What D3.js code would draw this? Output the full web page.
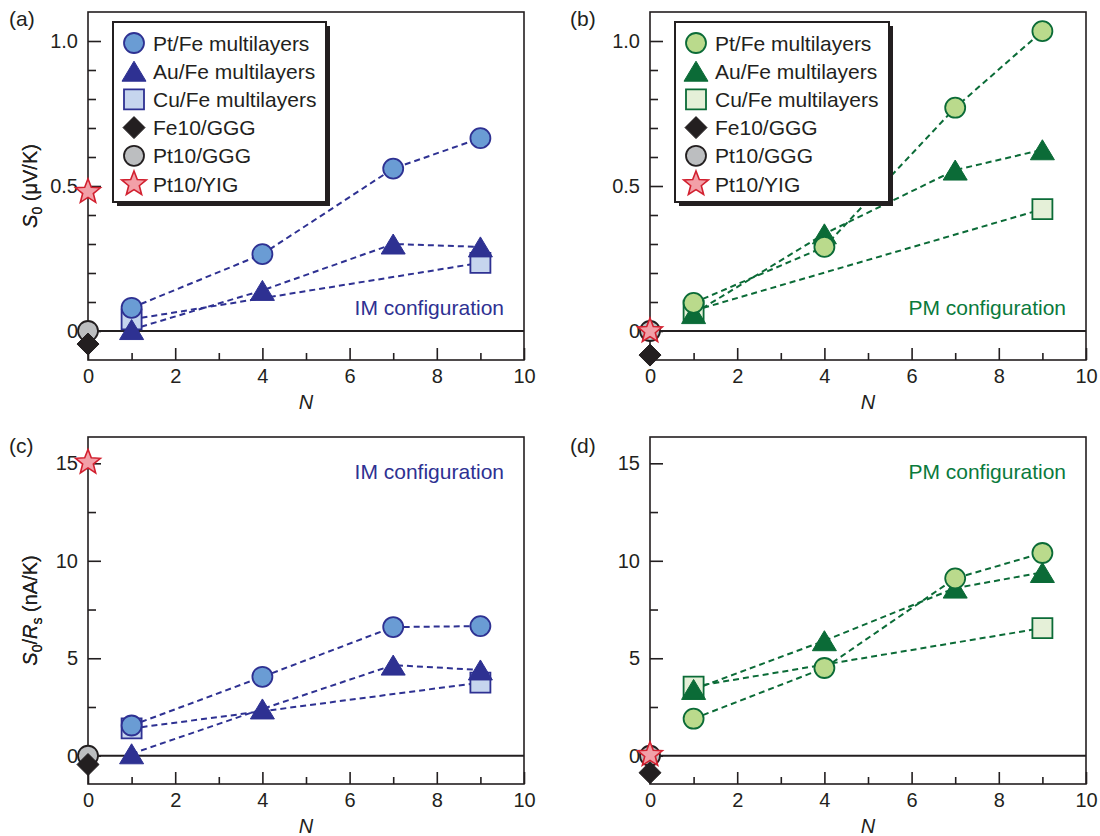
<!DOCTYPE html>
<html>
<head>
<meta charset="utf-8">
<script src="https://cdn.jsdelivr.net/npm/d3@7"></script>
<style>
  body { margin: 0; background: #fff; }
  svg text { font-family: "Liberation Sans", Arial, Helvetica, sans-serif; fill: #231f20; }
</style>
</head>
<body>
<svg id="fig" width="1100" height="836"></svg>
<script>
// ---- data ----
const nMulti = [1, 4, 7, 9];   // Pt/Fe and Au/Fe multilayers
const nCu = [1, 9];            // Cu/Fe multilayers
const nRef = 0;                // single-layer references

const xMajor = [0, 2, 4, 6, 8, 10];
const xMinor = [1, 3, 5, 7, 9];

const s0Major = [0, 0.5, 1.0];
const s0Minor = [0.1, 0.2, 0.3, 0.4, 0.6, 0.7, 0.8, 0.9];
const srMajor = [0, 5, 10, 15];
const srMinor = [2.5, 7.5, 12.5];

const legendNames = ['Pt/Fe multilayers', 'Au/Fe multilayers', 'Cu/Fe multilayers',
                     'Fe10/GGG', 'Pt10/GGG', 'Pt10/YIG'];

// (a) S0, IM configuration (μV/K)
const ptFeS0IM = [0.08, 0.265, 0.56, 0.665];
const auFeS0IM = [0.005, 0.14, 0.30, 0.29];
const cuFeS0IM = [0.04, 0.235];
const refS0IM  = [-0.045, 0, 0.48];   // Fe10/GGG, Pt10/GGG, Pt10/YIG

// (b) S0, PM configuration (μV/K)
const ptFeS0PM = [0.097, 0.29, 0.77, 1.034];
const auFeS0PM = [0.06, 0.335, 0.555, 0.625];
const cuFeS0PM = [0.07, 0.42];
const refS0PM  = [-0.083, 0, 0];

// (c) S0/Rs, IM configuration (nA/K)
const ptFeSrIM = [1.55, 4.05, 6.6, 6.65];
const auFeSrIM = [0.1, 2.4, 4.65, 4.4];
const cuFeSrIM = [1.4, 3.75];
const refSrIM  = [-0.45, 0, 15.05];

// (d) S0/Rs, PM configuration (nA/K)
const ptFeSrPM = [1.9, 4.5, 9.1, 10.4];
const auFeSrPM = [3.4, 5.9, 8.6, 9.4];
const cuFeSrPM = [3.55, 6.55];
const refSrPM  = [-0.87, 0, 0.05];

const imTheme = {dark: '#2e3192', ptFill: '#6a9cd4', cuFill: '#c6d5ee', note: '#2e3192'};
const pmTheme = {dark: '#0b6b37', ptFill: '#bada8c', cuFill: '#e5f0d8', note: '#0a7a3c'};

function shapePath(type) {
  if (type === 'circle') return 'M10,0A10,10 0 1,1 -10,0A10,10 0 1,1 10,0Z';
  if (type === 'triangle') return 'M0,-10L12,10L-12,10Z';
  if (type === 'square') return 'M-10,-10H10V10H-10Z';
  if (type === 'diamond') return 'M0,-11L11,0L0,11L-11,0Z';
  // star
  const pts = d3.range(10).map(i => {
    const r = i % 2 === 0 ? 13 : 5.6;
    const a = -Math.PI / 2 + i * Math.PI / 5;
    return [r * Math.cos(a), r * Math.sin(a)];
  });
  return 'M' + pts.map(p => p.join(',')).join('L') + 'Z';
}

class PanelChart {

  constructor(_config, _data) {
    this.config = _config;
    this.data = _data;
    this.initVis();
  }

  initVis() {
    let vis = this;
    const c = vis.config;
    vis.width = c.right - c.left;
    vis.height = c.bottom - c.top;

    vis.svg = d3.select(c.parentElement);
    vis.chart = vis.svg.append('g')
        .attr('transform', `translate(${c.left},${c.top})`);

    vis.xScale = d3.scaleLinear().domain([0, 10]).range([0, vis.width]);
    vis.yScale = d3.scaleLinear().domain(c.yDomain).range([vis.height, 0]);

    // panel letter
    vis.svg.append('text')
        .attr('x', c.labelX).attr('y', c.labelY)
        .attr('font-size', 21)
        .text(c.label);

    // y axis: major + minor inward ticks
    const yMajorAxis = d3.axisLeft(vis.yScale).tickValues(c.yMajor)
        .tickSize(-13).tickPadding(10).tickFormat(c.yFormat);
    const yMinorAxis = d3.axisLeft(vis.yScale).tickValues(c.yMinor)
        .tickSize(-8).tickFormat('');
    const xMajorAxis = d3.axisBottom(vis.xScale).tickValues(xMajor)
        .tickSize(-12).tickPadding(9).tickFormat(d3.format('d'));
    const xMinorAxis = d3.axisBottom(vis.xScale).tickValues(xMinor)
        .tickSize(-7).tickFormat('');

    [yMajorAxis, yMinorAxis].forEach(ax => {
      vis.chart.append('g').call(ax).call(g => g.select('.domain').remove());
    });
    [xMajorAxis, xMinorAxis].forEach(ax => {
      vis.chart.append('g').attr('transform', `translate(0,${vis.height})`)
          .call(ax).call(g => g.select('.domain').remove());
    });
    vis.chart.selectAll('.tick line').attr('stroke', '#231f20').attr('stroke-width', 1.6);
    vis.chart.selectAll('.tick text')
        .attr('font-size', 20)
        .attr('font-family', '"Liberation Sans", Arial, sans-serif')
        .attr('fill', '#231f20');

    // frame
    vis.chart.append('rect')
        .attr('width', vis.width).attr('height', vis.height)
        .attr('fill', 'none').attr('stroke', '#231f20').attr('stroke-width', 1.6);

    // zero line
    vis.chart.append('line')
        .attr('x1', 0).attr('x2', vis.width)
        .attr('y1', vis.yScale(0)).attr('y2', vis.yScale(0))
        .attr('stroke', '#231f20').attr('stroke-width', 1.8);

    // axis titles
    vis.chart.append('text')
        .attr('x', vis.width / 2).attr('y', vis.height + 49)
        .attr('text-anchor', 'middle')
        .attr('font-size', 20).attr('font-style', 'italic')
        .text('N');

    const yt = vis.chart.append('text')
        .attr('transform', `translate(${37 - c.left},${vis.height / 2}) rotate(-90)`)
        .attr('text-anchor', 'middle')
        .attr('font-size', 20);
    c.yTitle.forEach(p => {
      const ts = yt.append('tspan').text(p.t);
      if (p.italic) ts.attr('font-style', 'italic');
      if (p.sub) ts.attr('font-size', 14);
      if (p.dy) ts.attr('dy', p.dy);
    });

    // configuration note
    vis.chart.append('text')
        .attr('x', vis.width - 20).attr('y', c.noteY)
        .attr('text-anchor', 'end')
        .attr('font-size', 21)
        .style('fill', c.theme.note)
        .text(c.note);

    vis.renderVis();
  }

  renderVis() {
    let vis = this;
    const d = vis.data;
    const th = vis.config.theme;
    const x = vis.xScale, y = vis.yScale;

    const series = [
      {n: nMulti, v: d.pt},
      {n: nMulti, v: d.au},
      {n: nCu, v: d.cu}
    ];
    const line = d3.line().x(p => x(p[0])).y(p => y(p[1]));

    vis.chart.append('g').selectAll('path')
        .data(series)
        .join('path')
        .attr('d', s => line(d3.zip(s.n, s.v)))
        .attr('fill', 'none')
        .attr('stroke', th.dark)
        .attr('stroke-width', 2)
        .attr('stroke-dasharray', '6,4');

    const marks = [];
    marks.push({n: nRef, v: d.ref[1], shape: 'circle', fill: '#bcbec0', stroke: '#231f20', sw: 1.8});
    marks.push({n: nRef, v: d.ref[0], shape: 'diamond', fill: '#231f20', stroke: '#231f20', sw: 1});
    marks.push({n: nRef, v: d.ref[2], shape: 'star', fill: '#f2a0a8', stroke: '#d2202f', sw: 1.6});
    nCu.forEach((n, i) => marks.push({n, v: d.cu[i], shape: 'square', fill: th.cuFill, stroke: th.dark, sw: 1.8}));
    nMulti.forEach((n, i) => marks.push({n, v: d.au[i], shape: 'triangle', fill: th.dark, stroke: th.dark, sw: 1}));
    nMulti.forEach((n, i) => marks.push({n, v: d.pt[i], shape: 'circle', fill: th.ptFill, stroke: th.dark, sw: 1.8}));

    vis.chart.append('g').selectAll('path')
        .data(marks)
        .join('path')
        .attr('transform', m => `translate(${x(m.n)},${y(m.v)})`)
        .attr('d', m => shapePath(m.shape))
        .attr('fill', m => m.fill)
        .attr('stroke', m => m.stroke)
        .attr('stroke-width', m => m.sw);

    if (vis.config.legend) vis.renderLegend();
  }

  renderLegend() {
    let vis = this;
    const th = vis.config.theme;
    const L = vis.config.legend;   // absolute box position
    const g = vis.svg.append('g');
    g.append('rect')
        .attr('x', L.x + 4).attr('y', L.y + 4)
        .attr('width', L.w).attr('height', L.h)
        .attr('fill', '#231f20');
    g.append('rect')
        .attr('x', L.x).attr('y', L.y)
        .attr('width', L.w).attr('height', L.h)
        .attr('fill', '#fff').attr('stroke', '#231f20').attr('stroke-width', 2);

    const styles = [
      {shape: 'circle', fill: th.ptFill, stroke: th.dark, sw: 1.8},
      {shape: 'triangle', fill: th.dark, stroke: th.dark, sw: 1},
      {shape: 'square', fill: th.cuFill, stroke: th.dark, sw: 1.8},
      {shape: 'diamond', fill: '#231f20', stroke: '#231f20', sw: 1},
      {shape: 'circle', fill: '#bcbec0', stroke: '#231f20', sw: 1.8},
      {shape: 'star', fill: '#f2a0a8', stroke: '#d2202f', sw: 1.6}
    ];
    const rowY = d3.scalePoint().domain(legendNames).range([L.y + 21, L.y + 162]);

    const rows = g.selectAll('g.row')
        .data(legendNames)
        .join('g').attr('class', 'row')
        .attr('transform', n => `translate(${L.x + 21},${rowY(n)})`);
    rows.append('path')
        .attr('d', (n, i) => shapePath(styles[i].shape))
        .attr('fill', (n, i) => styles[i].fill)
        .attr('stroke', (n, i) => styles[i].stroke)
        .attr('stroke-width', (n, i) => styles[i].sw);
    rows.append('text')
        .attr('x', 19).attr('dy', '0.36em')
        .attr('font-size', 21)
        .text(n => n);
  }
}

const s0Title = [{t: 'S', italic: true}, {t: '0', sub: true, dy: 5}, {t: ' (μV/K)', dy: -5}];
const srTitle = [{t: 'S', italic: true}, {t: '0', sub: true, dy: 5}, {t: '/', dy: -5},
                 {t: 'R', italic: true}, {t: 's', sub: true, dy: 5}, {t: ' (nA/K)', dy: -5}];
const fmtS0 = v => v === 0 ? '0' : d3.format('.1f')(v);
const fmtSr = d3.format('d');

new PanelChart({
  parentElement: '#fig', left: 88, right: 524, top: 12, bottom: 360,
  yDomain: [-0.1, 1.1], yMajor: s0Major, yMinor: s0Minor, yFormat: fmtS0, yTitle: s0Title,
  label: '(a)', labelX: 9, labelY: 26, note: 'IM configuration', noteY: 303,
  theme: imTheme, legend: {x: 113, y: 22, w: 213, h: 180}
}, {pt: ptFeS0IM, au: auFeS0IM, cu: cuFeS0IM, ref: refS0IM});

new PanelChart({
  parentElement: '#fig', left: 650, right: 1086, top: 12, bottom: 360,
  yDomain: [-0.1, 1.1], yMajor: s0Major, yMinor: s0Minor, yFormat: fmtS0, yTitle: s0Title,
  label: '(b)', labelX: 570, labelY: 26, note: 'PM configuration', noteY: 303,
  theme: pmTheme, legend: {x: 675, y: 22, w: 214, h: 180}
}, {pt: ptFeS0PM, au: auFeS0PM, cu: cuFeS0PM, ref: refS0PM});

new PanelChart({
  parentElement: '#fig', left: 88, right: 524, top: 437, bottom: 784,
  yDomain: [-1.45, 16.35], yMajor: srMajor, yMinor: srMinor, yFormat: fmtSr, yTitle: srTitle,
  label: '(c)', labelX: 9, labelY: 453, note: 'IM configuration', noteY: 42,
  theme: imTheme, legend: null
}, {pt: ptFeSrIM, au: auFeSrIM, cu: cuFeSrIM, ref: refSrIM});

new PanelChart({
  parentElement: '#fig', left: 650, right: 1086, top: 437, bottom: 784,
  yDomain: [-1.45, 16.35], yMajor: srMajor, yMinor: srMinor, yFormat: fmtSr, yTitle: srTitle,
  label: '(d)', labelX: 570, labelY: 453, note: 'PM configuration', noteY: 42,
  theme: pmTheme, legend: null
}, {pt: ptFeSrPM, au: auFeSrPM, cu: cuFeSrPM, ref: refSrPM});
</script>
</body>
</html>
